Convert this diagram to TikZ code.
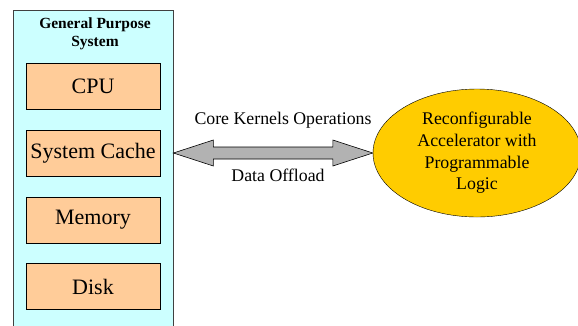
\documentclass[tikz,border=0pt]{standalone}
\usepackage{fontspec}
\setmainfont{Liberation Serif}
\usetikzlibrary{calc,shapes.geometric}
\definecolor{sysblue}{HTML}{CCFFFF}
\definecolor{partorange}{HTML}{FFCC99}
\definecolor{accelgold}{HTML}{FFCC00}
\definecolor{arrowgray}{HTML}{B2B2B2}
\begin{document}
\begin{tikzpicture}[x=1pt, y=-1pt,
  part/.style={draw, fill=partorange, minimum width=134pt, minimum height=46pt, inner sep=0pt, font=\fontsize{22}{26}\selectfont},
  lbl/.style={font=\fontsize{17.8}{21}\selectfont, inner sep=0pt}]
  \useasboundingbox (0,0) rectangle (578,325);
  \clip (0,0) rectangle (578,325);

  \node[draw=darkgray, fill=sysblue, minimum width=160pt, minimum height=330pt, anchor=north west, inner sep=0pt] (sys) at (13,10) {};
  \node[font=\bfseries\fontsize{15.5}{17.5}\selectfont, align=center, inner sep=0pt] (title) at (95,34) {General Purpose\\System};

  \node[part] (cpu)   at (93,86)    {CPU};
  \node[part] (cache) at (93,153)   {System Cache};
  \node[part] (mem)   at (93,220)   {Memory};
  \node[part] (disk)  at (93,286.5) {Disk};

  \node[draw, fill=accelgold, ellipse, minimum width=208pt, minimum height=128pt, inner sep=0pt, align=center, font=\fontsize{17.8}{21.7}\selectfont] (accel) at (477,153) {Reconfigurable\\Accelerator with\\Programmable\\Logic};

  \coordinate (tipL) at (sys.east |- accel.west);
  \coordinate (tipR) at (accel.west);
  \filldraw[fill=arrowgray, draw=black, line width=0.6pt]
    (tipL) -- ($(tipL)+(40,-13)$) -- ($(tipL)+(40,-6)$) -- ($(tipR)+(-40,-6)$) -- ($(tipR)+(-40,-13)$)
    -- (tipR) -- ($(tipR)+(-40,13)$) -- ($(tipR)+(-40,6)$) -- ($(tipL)+(40,6)$) -- ($(tipL)+(40,13)$) -- cycle;

  \node[lbl] (ops)     at (283,120) {Core Kernels Operations};
  \node[lbl] (offload) at (278,175) {Data Offload};

\end{tikzpicture}
\end{document}
